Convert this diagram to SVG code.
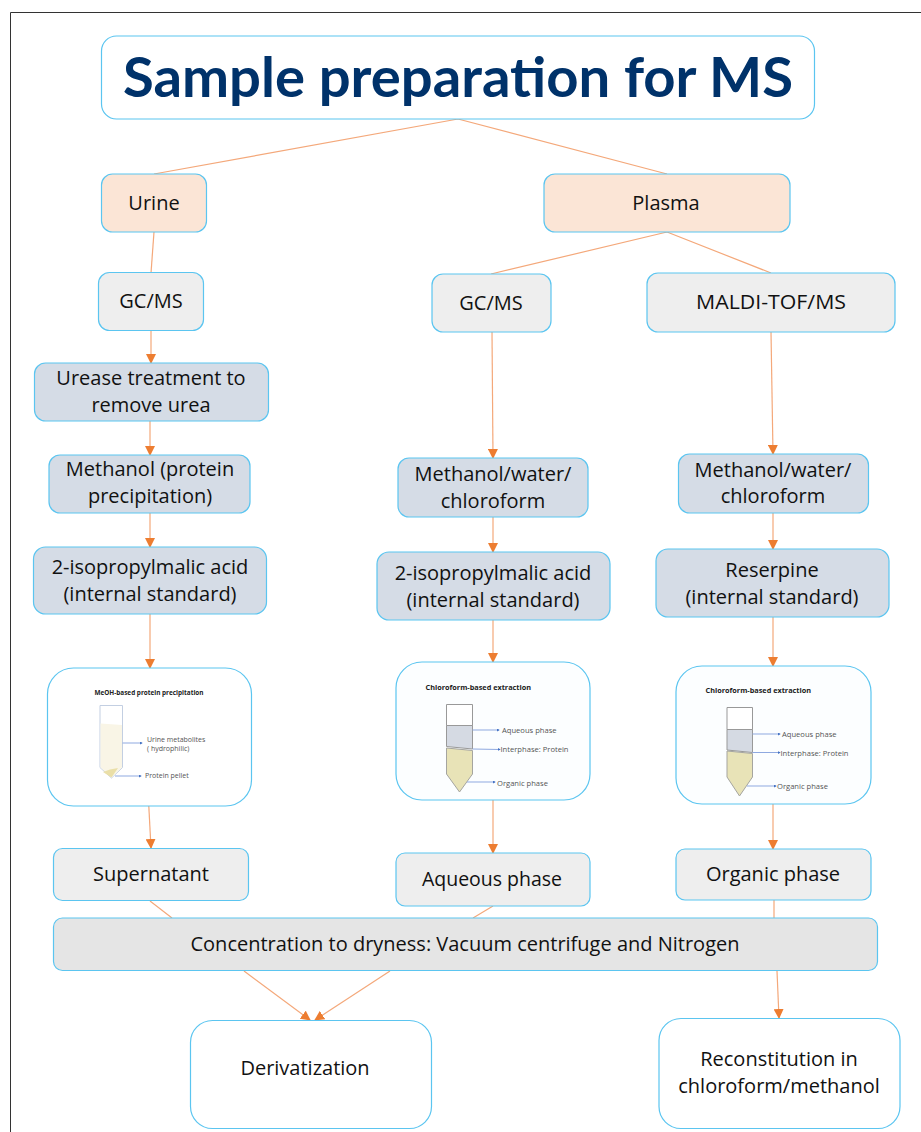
<svg xmlns="http://www.w3.org/2000/svg" width="921" height="1132" viewBox="0 0 921 1132">
<style>
text{font-family:"Open Sans","Noto Sans","Liberation Sans",sans-serif;fill:#111;text-anchor:middle}
.n{stroke:#5bc5f0;stroke-width:1.2}
.w{fill:#fff}.p{fill:#fbe5d6}.g{fill:#eeeeee}.b{fill:#d5dce6}.d{fill:#e5e5e5}
.l{font-size:20px}
.c{stroke:#f4a87a;stroke-width:1.2;fill:none}
.a{marker-end:url(#ah)}
.t{text-anchor:start;font-size:7.6px;fill:#555}
.m{text-anchor:start;font-size:7px;fill:#555}
.h{text-anchor:start;font-size:7.3px;font-weight:700;fill:#222}
.pt{stroke:#8fa9e0;stroke-width:1;fill:none;marker-end:url(#bh)}
</style>
<defs>
<marker id="ah" viewBox="0 0 10 10" refX="9" refY="5" markerWidth="10" markerHeight="10" markerUnits="userSpaceOnUse" orient="auto"><path d="M0 0L10 5L0 10Z" fill="#ed7d31"/></marker>
<marker id="bh" viewBox="0 0 4 4" refX="3" refY="2" markerWidth="3" markerHeight="3" markerUnits="userSpaceOnUse" orient="auto"><path d="M0 0L4 2L0 4Z" fill="#4472c4"/></marker>
</defs>
<rect width="921" height="1132" fill="#fff"/>
<path d="M10.500 1132V12.500H921" fill="none" stroke="#333" stroke-width="1"/>

<g id="connectors">
<path class="c" d="M458 119L154 174M458 119L667 174M667 232L491 274M667 232L771 273"/>
<path class="c" d="M154 232L151 273"/>
<path class="c a" d="M151 331V363"/>
<path class="c a" d="M150 421V455"/>
<path class="c a" d="M150 513V547"/>
<path class="c a" d="M150 614V668"/>
<path class="c a" d="M148 791L151 848"/>
<path class="c a" d="M492 332L493 458"/>
<path class="c a" d="M493 517V552"/>
<path class="c a" d="M493 620V662"/>
<path class="c a" d="M493 800V853"/>
<path class="c a" d="M771 332L773 454"/>
<path class="c a" d="M773 513V549"/>
<path class="c a" d="M773 617V666"/>
<path class="c a" d="M773 804V849"/>
<path class="c" d="M150 901L172 918M493 906L473 918M774 900V918"/>
<path class="c a" d="M244 971L310 1020"/>
<path class="c a" d="M390 971L315 1020"/>
<path class="c a" d="M777 971L779 1018"/>
</g>

<g id="title"><rect class="n w" x="101.500" y="36" width="713" height="83" rx="15"/>
<text x="458" y="97" textLength="670" lengthAdjust="spacingAndGlyphs" style="font-family:Lato,'Open Sans',sans-serif;font-size:56px;font-weight:700;fill:#00326a">Sample preparation for MS</text></g>
<g id="urine"><rect class="n p" x="101.500" y="174" width="105" height="58" rx="11"/><text class="l" x="154" y="210">Urine</text></g>
<g id="plasma"><rect class="n p" x="544" y="174" width="246" height="58" rx="11"/><text class="l" x="666" y="210">Plasma</text></g>
<g id="gcms-urine"><rect class="n g" x="98.500" y="272.500" width="105" height="58" rx="11"/><text class="l" x="151" y="308">GC/MS</text></g>
<g id="gcms-plasma"><rect class="n g" x="432" y="274" width="119" height="58" rx="11"/><text class="l" x="491" y="310">GC/MS</text></g>
<g id="maldi"><rect class="n g" x="647" y="273" width="248" height="59" rx="11"/><text class="l" x="771" y="309" textLength="150" lengthAdjust="spacingAndGlyphs">MALDI-TOF/MS</text></g>
<g id="urease"><rect class="n b" x="34.500" y="363" width="234" height="58" rx="11"/><text class="l" x="151" y="385">Urease treatment to</text><text class="l" x="151" y="412">remove urea</text></g>
<g id="methanol-pp"><rect class="n b" x="49" y="455" width="201" height="58" rx="11"/><text class="l" x="150" y="476">Methanol (protein</text><text class="l" x="150" y="503">precipitation)</text></g>
<g id="ipma-urine"><rect class="n b" x="33.500" y="547" width="233" height="67" rx="12"/><text class="l" x="150" y="574">2-isopropylmalic acid</text><text class="l" x="150" y="601">(internal standard)</text></g>
<g id="mwc-gc"><rect class="n b" x="398" y="458" width="190" height="59" rx="11"/><text class="l" x="493" y="481">Methanol/water/</text><text class="l" x="493" y="508">chloroform</text></g>
<g id="ipma-plasma"><rect class="n b" x="377" y="552" width="233" height="68" rx="12"/><text class="l" x="493" y="580">2-isopropylmalic acid</text><text class="l" x="493" y="607">(internal standard)</text></g>
<g id="mwc-maldi"><rect class="n b" x="678.500" y="454" width="190" height="59" rx="11"/><text class="l" x="773" y="477">Methanol/water/</text><text class="l" x="773" y="503">chloroform</text></g>
<g id="reserpine"><rect class="n b" x="656" y="549" width="233" height="68" rx="12"/><text class="l" x="772" y="577">Reserpine</text><text class="l" x="772" y="604">(internal standard)</text></g>

<g id="panel-meoh"><rect class="n w" x="47.500" y="668" width="204" height="138" rx="26"/>
<text class="h" x="94.500" y="695" textLength="109" lengthAdjust="spacingAndGlyphs">MeOH-based protein precipitation</text>
<path d="M100 705.500H122.500V767.500L111.500 778L100 767.500Z" fill="#fff" stroke="#c3cfe2"/>
<path d="M100.500 723.500L122 725V767.500L111.500 777.500L100.500 767.500Z" fill="#f9f5e6"/>
<path d="M103 772L110 769.500L118 768L111.500 777.500Z" fill="#eadfa8"/>
<path class="pt" d="M122.500 743H142"/><path class="pt" d="M115 776H141"/>
<text class="m" x="147" y="742">Urine metabolites</text><text class="m" x="147" y="751">( hydrophilic)</text><text class="m" x="145" y="778">Protein pellet</text></g>

<g id="panel-aqueous"><rect class="n w" x="396" y="662" width="194" height="138" rx="26" style="fill:#fcfeff"/>
<text class="h" x="425.500" y="690">Chloroform-based extraction</text>
<path d="M446.500 704.500H472.500V725.500H446.500Z" fill="#fff" stroke="#999"/>
<path d="M446.500 725.500H472.500V749L446.500 746.500Z" fill="#d5dae3" stroke="#999"/>
<path d="M446.500 748L472.500 750.500V774L459.500 792L446.500 774Z" fill="#e8e3b7" stroke="#a5a5a0"/>
<path class="pt" d="M472.500 730H499"/><path class="pt" d="M472.500 749L500 749.500"/><path class="pt" d="M467 782H495"/>
<text class="t" x="502" y="733">Aqueous phase</text><text class="t" x="500.500" y="752">Interphase: Protein</text><text class="t" x="497" y="785.500">Organic phase</text></g>

<g id="panel-organic"><rect class="n w" x="676" y="666" width="195" height="138" rx="26" style="fill:#fcfeff"/>
<text class="h" x="705.500" y="693">Chloroform-based extraction</text>
<path d="M727 707.500H752.500V729.500H727Z" fill="#fff" stroke="#999"/>
<path d="M727 729.500H752.500V752.500L727 750Z" fill="#d5dae3" stroke="#999"/>
<path d="M727 751L752.500 753.500V777L739.500 796L727 777Z" fill="#e8e3b7" stroke="#a5a5a0"/>
<path class="pt" d="M752.500 734H780"/><path class="pt" d="M752.500 752.500H780"/><path class="pt" d="M747 786H776"/>
<text class="t" x="782" y="736.500">Aqueous phase</text><text class="t" x="780.500" y="755.500">Interphase: Protein</text><text class="t" x="777" y="789">Organic phase</text></g>

<g id="supernatant"><rect class="n g" x="53.500" y="848.500" width="195" height="52" rx="9"/><text class="l" x="151" y="881">Supernatant</text></g>
<g id="aqueous"><rect class="n g" x="396" y="853" width="194" height="53" rx="9"/><text class="l" x="492" y="886" textLength="140" lengthAdjust="spacingAndGlyphs">Aqueous phase</text></g>
<g id="organic"><rect class="n g" x="676" y="849" width="195" height="51" rx="9"/><text class="l" x="773" y="881">Organic phase</text></g>
<g id="concentration"><rect class="n d" x="53.500" y="918" width="824" height="52.500" rx="9"/><text class="l" x="465" y="951">Concentration to dryness: Vacuum centrifuge and Nitrogen</text></g>
<g id="derivatization"><rect class="n w" x="190.500" y="1020.500" width="241" height="108" rx="22"/><text class="l" x="305" y="1075">Derivatization</text></g>
<g id="reconstitution"><rect class="n w" x="659" y="1018.500" width="241" height="110" rx="22"/><text class="l" x="779" y="1066">Reconstitution in</text><text class="l" x="779" y="1093">chloroform/methanol</text></g>
</svg>
